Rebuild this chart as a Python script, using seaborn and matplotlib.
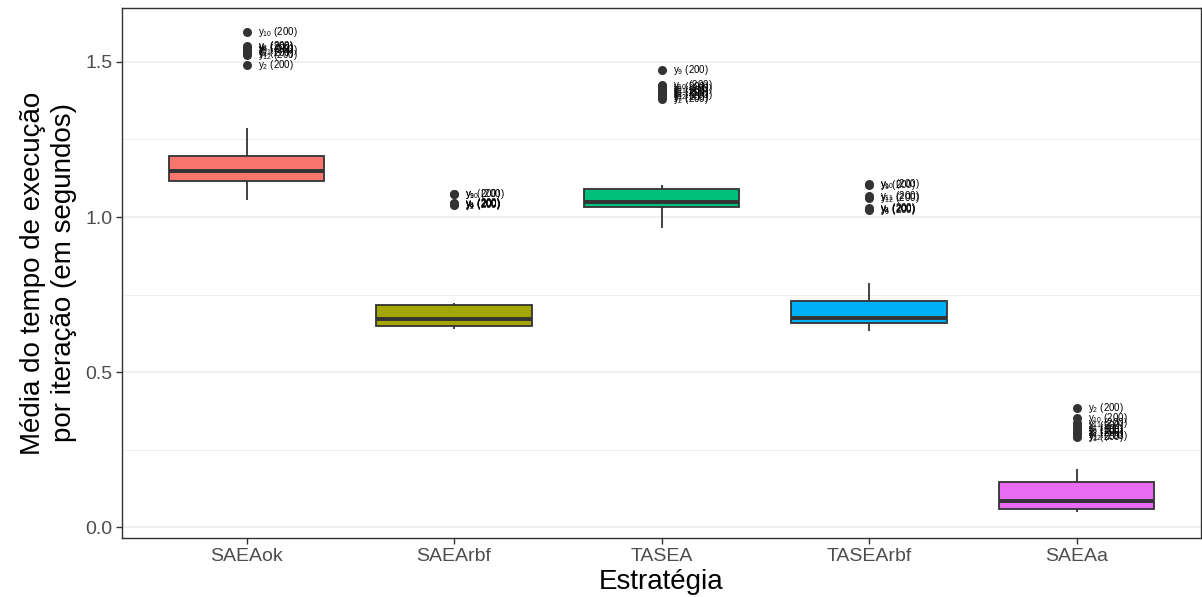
import numpy as np
import pandas as pd
import matplotlib
matplotlib.use("Agg")
import matplotlib.pyplot as plt
import seaborn as sns

# Strategies compared
estrategias = ["SAEAok", "SAEArbf", "TASEA", "TASEArbf", "SAEAa"]

# Mean time per iteration (s) for each strategy: regular runs
saeaok = [1.055, 1.071, 1.084, 1.093, 1.099, 1.103, 1.106, 1.109, 1.112, 1.114,
          1.116, 1.119, 1.123, 1.127, 1.131, 1.135, 1.139, 1.143, 1.146, 1.148,
          1.148, 1.152, 1.156, 1.160, 1.165, 1.170, 1.176, 1.182, 1.187, 1.192,
          1.198, 1.221, 1.286]
saearbf = [0.639, 0.640, 0.641, 0.642, 0.643, 0.644, 0.645, 0.646, 0.647, 0.647,
           0.648, 0.650, 0.652, 0.654, 0.656, 0.658, 0.660, 0.663, 0.666, 0.669,
           0.671, 0.675, 0.679, 0.683, 0.688, 0.693, 0.698, 0.703, 0.708, 0.712,
           0.716, 0.718, 0.720, 0.721, 0.723]
tasea = [0.965, 0.985, 1.000, 1.010, 1.016, 1.020, 1.023, 1.026, 1.028, 1.030,
         1.032, 1.033, 1.035, 1.036, 1.038, 1.040, 1.041, 1.043, 1.045, 1.046,
         1.048, 1.051, 1.055, 1.059, 1.063, 1.067, 1.071, 1.075, 1.080, 1.085,
         1.090, 1.103]
tasearbf = [0.632, 0.638, 0.642, 0.645, 0.648, 0.650, 0.652, 0.654, 0.656, 0.657,
            0.658, 0.659, 0.660, 0.662, 0.663, 0.665, 0.667, 0.669, 0.671, 0.673,
            0.674, 0.677, 0.681, 0.686, 0.691, 0.697, 0.703, 0.710, 0.717, 0.723,
            0.729, 0.738, 0.752, 0.787]
saeaa = [0.048, 0.049, 0.050, 0.051, 0.052, 0.053, 0.054, 0.055, 0.056, 0.057,
         0.058, 0.060, 0.062, 0.065, 0.068, 0.071, 0.074, 0.077, 0.079, 0.082,
         0.084, 0.088, 0.093, 0.099, 0.105, 0.111, 0.118, 0.125, 0.132, 0.139,
         0.145, 0.187]

# Outlying runs and the problem they belong to
saeaok_out = [1.490, 1.524, 1.530, 1.538, 1.543, 1.548, 1.553, 1.597]
saeaok_out_id = [2, 12, 4, 11, 5, 6, 8, 10]
saearbf_out = [1.040, 1.041, 1.042, 1.044, 1.073, 1.075]
saearbf_out_id = [2, 6, 4, 8, 10, 9]
tasea_out = [1.380, 1.388, 1.395, 1.400, 1.405, 1.412, 1.418, 1.426, 1.474]
tasea_out_id = [2, 7, 12, 4, 6, 11, 8, 10, 9]
tasearbf_out = [1.024, 1.026, 1.028, 1.062, 1.067, 1.104, 1.106]
tasearbf_out_id = [6, 4, 8, 12, 11, 9, 10]
saeaa_out = [0.290, 0.295, 0.302, 0.310, 0.318, 0.325, 0.335, 0.352, 0.384]
saeaa_out_id = [3, 12, 4, 8, 6, 1, 11, 10, 2]
geracoes = 200

regulares = [saeaok, saearbf, tasea, tasearbf, saeaa]
outliers = [saeaok_out, saearbf_out, tasea_out, tasearbf_out, saeaa_out]
outlier_ids = [saeaok_out_id, saearbf_out_id, tasea_out_id, tasearbf_out_id, saeaa_out_id]

rows = []
for nome, reg, out in zip(estrategias, regulares, outliers):
    for v in list(reg) + list(out):
        rows.append({"Estratégia": nome, "tempo": v})
df = pd.DataFrame(rows)

cores = ["#F8766D", "#A3A500", "#00BF7D", "#00B0F6", "#E76BF3"]

sns.set_theme(style="white")
plt.rcParams["font.family"] = ["Liberation Sans", "DejaVu Sans"]
plt.rcParams["mathtext.fontset"] = "custom"
plt.rcParams["mathtext.rm"] = "Liberation Sans"
plt.rcParams["mathtext.it"] = "Liberation Sans:italic"

fig = plt.figure(figsize=(12.02, 5.97), dpi=100)
ax = fig.add_axes([122 / 1202, 1 - 538 / 597, (1201 - 122) / 1202, (538 - 8) / 597])

# grid first so boxes sit above
ax.set_axisbelow(True)
ax.set_yticks([0.25, 0.75, 1.25], minor=True)
ax.grid(which="major", color="#EBEBEB", linewidth=1.1)
ax.grid(which="minor", axis="y", color="#EBEBEB", linewidth=0.6)

sns.boxplot(
    data=df, x="Estratégia", y="tempo", hue="Estratégia", order=estrategias,
    hue_order=estrategias, palette=cores, saturation=1, width=0.75,
    linecolor="#333333", linewidth=1.3, legend=False, ax=ax,
    flierprops=dict(marker="o", markersize=6.5, markerfacecolor="#333333",
                    markeredgecolor="#333333", markeredgewidth=0),
    medianprops=dict(linewidth=2.8, color="#333333"),
    capprops=dict(linewidth=0),
)

# label each outlying run with its problem id
for i, (out, ids) in enumerate(zip(outliers, outlier_ids)):
    for v, k in zip(out, ids):
        ax.annotate(f"y$_{{{k}}}$ ({geracoes})", xy=(i, v), xytext=(8, 0),
                    textcoords="offset points", va="center", ha="left",
                    fontsize=7, color="black")

ax.set_xlim(-0.6, 4.6)
ax.set_ylim(-0.035, 1.674)
ax.set_yticks([0.0, 0.5, 1.0, 1.5])
ax.set_yticklabels(["0.0", "0.5", "1.0", "1.5"])
ax.tick_params(axis="both", which="major", length=4, width=1, color="#333333",
               labelsize=14, labelcolor="#4D4D4D", pad=3, direction="out")
ax.tick_params(axis="y", which="minor", length=0)
ax.tick_params(bottom=True, left=True)
for s in ax.spines.values():
    s.set_color("#333333")
    s.set_linewidth(1.0)
    s.set_visible(True)

ax.set_xlabel("Estratégia", fontsize=20, color="black", labelpad=3)
ax.set_ylabel("Média do tempo de execução\npor iteração (em segundos)",
              fontsize=20, color="black", labelpad=6, linespacing=1.25)

fig.savefig("out.png", dpi=100)
